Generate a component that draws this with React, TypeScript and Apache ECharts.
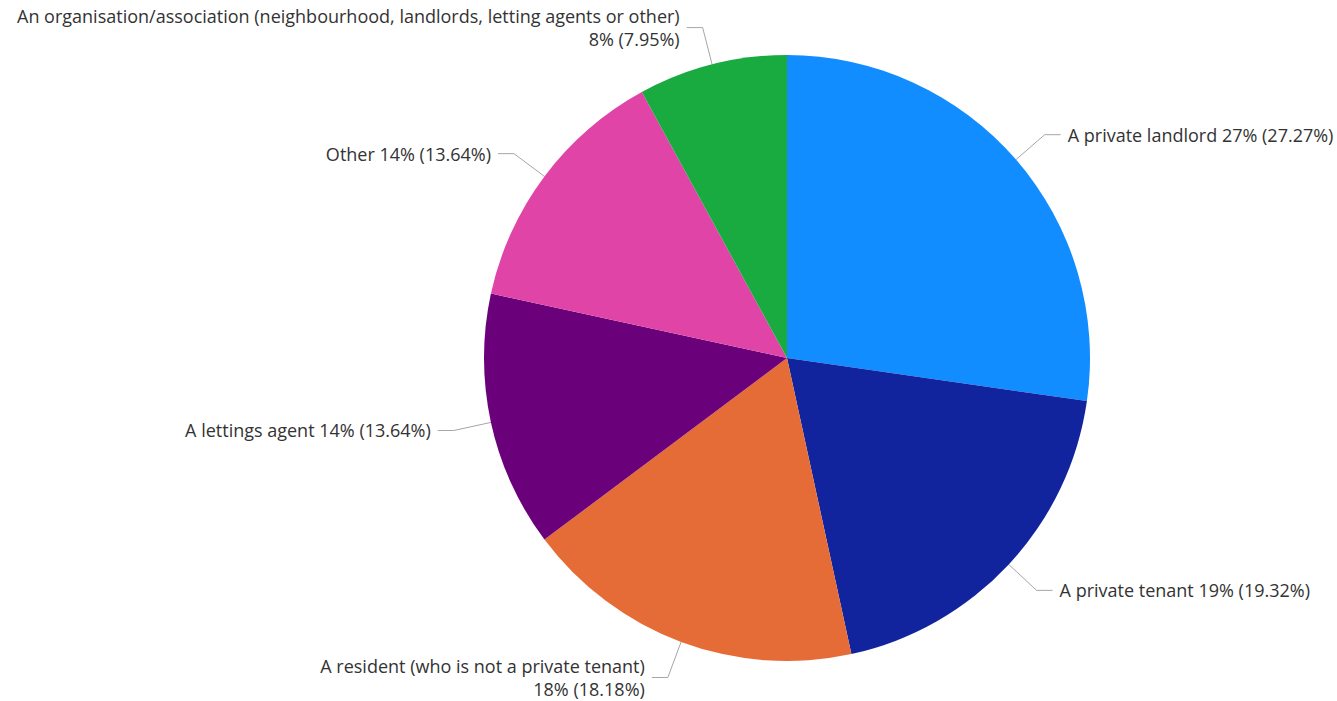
import React, { useEffect, useRef } from "react";
import * as echarts from "echarts";

const categories = [
  "A private landlord",
  "A private tenant",
  "A resident (who is not a private tenant)",
  "A lettings agent",
  "Other",
  "An organisation/association (neighbourhood, landlords, letting agents or other)",
];
const counts = [24, 17, 16, 12, 12, 7];
const wrapLabel = [false, false, true, false, false, true];
const colors = ["#118DFF", "#12239E", "#E66C37", "#6B007B", "#E044A7", "#1AAB40"];

export default function App() {
  const ref = useRef<HTMLDivElement>(null);
  useEffect(() => {
    if (!ref.current) return;
    const chart = echarts.init(ref.current, undefined, { renderer: "svg" });
    chart.setOption({
      animation: false,
      backgroundColor: "#ffffff",
      series: [
        {
          type: "pie",
          center: [787, 358],
          radius: 303,
          startAngle: 90,
          clockwise: true,
          avoidLabelOverlap: false,
          data: categories.map((c, i) => ({
            name: c,
            value: counts[i],
            itemStyle: { color: colors[i] },
          })),
          label: {
            show: true,
            fontFamily: "'Segoe UI', 'Open Sans', sans-serif",
            fontSize: 18,
            lineHeight: 23,
            color: "#333333",
            alignTo: "none",
            bleedMargin: 0,
            overflow: "none",
            distanceToLabelLine: 7,
            formatter: (p: any) => {
              const i = p.dataIndex;
              const pct = `${Math.round(p.percent)}% (${p.percent.toFixed(2)}%)`;
              return categories[i] + (wrapLabel[i] ? "\n" : " ") + pct;
            },
          },
          labelLine: {
            show: true,
            length: 38,
            length2: 16,
            lineStyle: { color: "#A6A6A6", width: 1 },
          },
          emphasis: { disabled: true },
        },
      ],
    });
    return () => chart.dispose();
  }, []);
  return (
    <div
      ref={ref}
      style={{ position: "fixed", left: 0, top: 0, width: 1337, height: 701 }}
    />
  );
}
